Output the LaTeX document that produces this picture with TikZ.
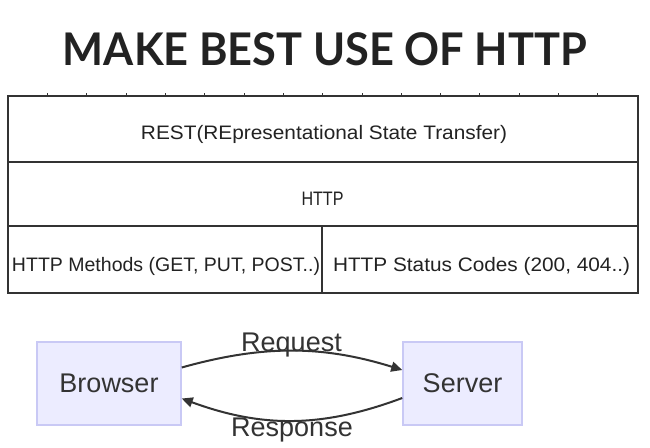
\documentclass[tikz,border=0pt]{standalone}
\usepackage{fontspec}
\usepackage{graphicx}
\setmainfont{Liberation Sans}
\newfontfamily\titlefont{Lato}
\usetikzlibrary{arrows.meta}
\definecolor{ink}{HTML}{222222}
\definecolor{edgec}{HTML}{333333}
\definecolor{boxfill}{HTML}{ECECFF}
\definecolor{boxline}{HTML}{C9C9F5}
\tikzset{
  cell/.style={draw=edgec, line width=1.6pt, rectangle, inner sep=0pt},
  lbl/.style={anchor=base, inner sep=0pt, text=ink, font=\fontsize{19.5}{22}\selectfont},
  actor/.style={draw=boxline, line width=1.5pt, fill=boxfill, rectangle, inner sep=0pt,
    text=edgec, font=\fontsize{27}{30}\selectfont},
  flow/.style={draw=edgec, line width=2pt, -{Triangle[length=11pt,width=10pt]}},
  elbl/.style={anchor=base, inner sep=0pt, text=edgec, font=\fontsize{27}{30}\selectfont},
  tickmark/.style={draw=edgec, line width=1pt}
}
\begin{document}
\begin{tikzpicture}[x=1pt,y=-1pt]
\useasboundingbox[fill=white] (0,0) rectangle (650,447);

% title
\node[anchor=base, inner sep=0pt, text=ink] (title) at (325,65)
  {\resizebox{524pt}{\height}{\titlefont\bfseries\fontsize{45}{50}\selectfont MAKE BEST USE OF HTTP}};

% table cells
\node[cell, minimum width=630pt, minimum height=66pt] (rest) at (323,129) {};
\node[cell, minimum width=630pt, minimum height=64pt] (http) at (323,194) {};
\node[cell, minimum width=314pt, minimum height=67pt] (methods) at (165,259.5) {};
\node[cell, minimum width=316pt, minimum height=67pt] (status) at (480,259.5) {};

% tick marks on the top edge
\foreach \i in {0,...,14} \draw[tickmark] ({47.6+39.3*\i},93) -- ++(0,3);

% table texts
\node[lbl] (resttext) at (324,139.5) {\resizebox{366pt}{\height}{REST(REpresentational State Transfer)}};
\node[lbl] (httptext) at (322.5,205) {\resizebox{42pt}{\height}{HTTP}};
\node[lbl] (methodstext) at (166,271) {\resizebox{308pt}{\height}{HTTP Methods (GET, PUT, POST..)}};
\node[lbl] (statustext) at (481.5,271) {\resizebox{297pt}{\height}{HTTP Status Codes (200, 404..)}};

% flow diagram
\node[actor, minimum width=144pt, minimum height=83pt] (b) at (109,383.5) {Browser};
\node[actor, minimum width=119pt, minimum height=83pt] (s) at (462.5,383.5) {Server};

\draw[flow] ([yshift=16pt]b.east) .. controls (262,345) and (322,345) .. ([yshift=13.5pt]s.west);
\draw[flow] ([yshift=-14.5pt]s.west) .. controls (322,428) and (262,428) .. ([yshift=-15pt]b.east);

\node[elbl] (req) at (291.5,351.5) {Request};
\node[elbl] (res) at (292,436) {Response};
\end{tikzpicture}
\end{document}
